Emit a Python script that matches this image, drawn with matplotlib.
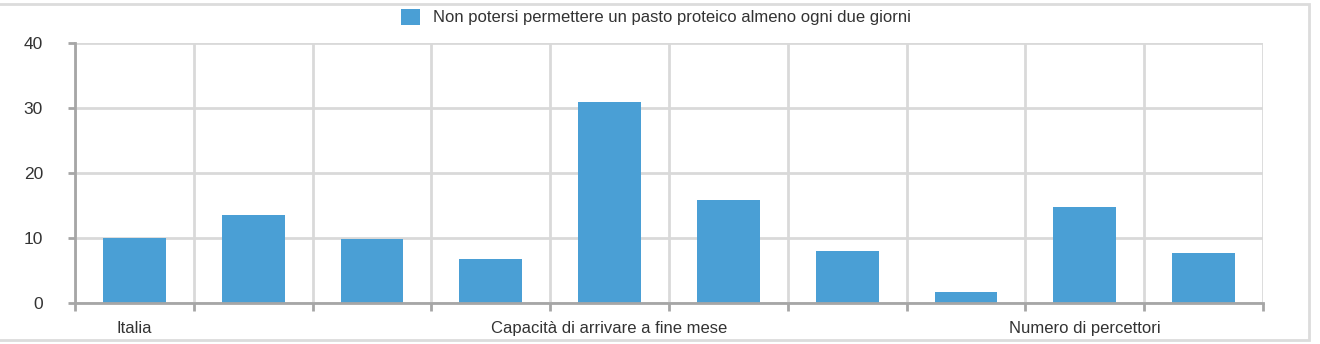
import matplotlib.pyplot as plt
from matplotlib.patches import Rectangle

categories = ["Italia", "", "", "", "Capacità di arrivare a fine mese",
              "", "", "", "Numero di percettori", ""]
values = [10, 13.6, 9.9, 6.8, 31.0, 15.9, 8.05, 1.75, 14.8, 7.7]
series_name = "Non potersi permettere un pasto proteico almeno ogni due giorni"
yticks = [0, 10, 20, 30, 40]

plt.rcParams['font.family'] = ['Liberation Sans', 'DejaVu Sans']

fig = plt.figure(figsize=(13.2, 3.44), dpi=100)
ax = fig.add_axes([75 / 1320, 1 - 303 / 344, (1263 - 75) / 1320, (303 - 43.3) / 344])

blue = "#4a9fd5"
grid = "#d9d9d9"
spine = "#a6a6a6"
txt = "#333333"

x = list(range(len(values)))
ax.bar(x, values, width=0.53, color=blue, zorder=3, label=series_name)

ax.set_xlim(-0.5, len(values) - 0.5)
ax.set_ylim(0, 40)
ax.set_yticks(yticks)
ax.set_yticklabels([str(t) for t in yticks], fontsize=12.5, color=txt)

# category boundaries for ticks and vertical grid
bounds = [i - 0.5 for i in range(len(values) + 1)]
ax.set_xticks(bounds)
ax.set_xticklabels([])
ax.set_xticks(x, minor=True)
ax.set_xticklabels(categories, minor=True, fontsize=12, color=txt)
ax.tick_params(axis='x', which='minor', length=0, pad=13)
ax.tick_params(axis='x', which='major', length=6, width=2, color=spine, direction='out')
ax.tick_params(axis='y', length=5, width=2, color=spine, pad=18)

ax.grid(True, which='major', color=grid, linewidth=2, zorder=0)
ax.set_axisbelow(True)
for s in ['top', 'right']:
    ax.spines[s].set_visible(False)
for s in ['left', 'bottom']:
    ax.spines[s].set_color(spine)
    ax.spines[s].set_linewidth(2)
    ax.spines[s].set_zorder(4)

leg = fig.legend(loc='upper center', bbox_to_anchor=(0.497, 1.018), frameon=False,
                 fontsize=12, handlelength=1.1, handleheight=1.1, handletextpad=0.8)
for t in leg.get_texts():
    t.set_color(txt)

# light outer frame
fig.patches.append(Rectangle((-0.01, 4 / 344), 1309 / 1320 + 0.01, 1 - 8 / 344,
                             transform=fig.transFigure, fill=False,
                             edgecolor="#dcdcdc", linewidth=2))

fig.savefig("out.png", dpi=100)
